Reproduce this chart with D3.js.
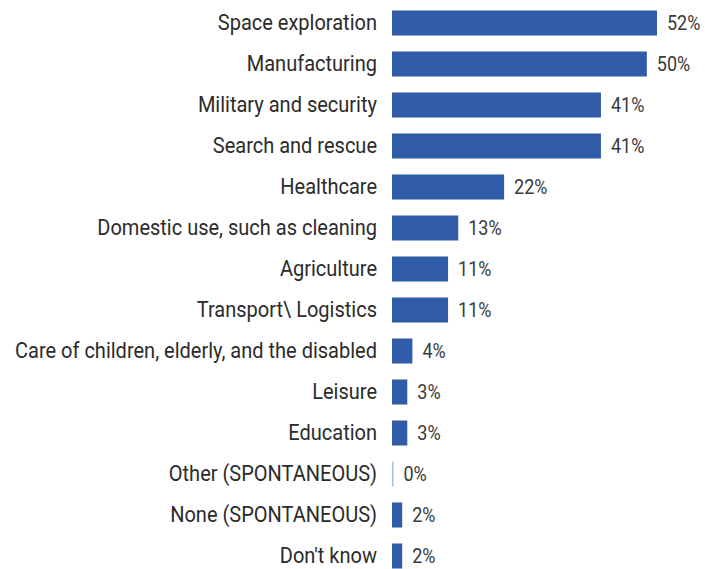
<!DOCTYPE html>
<html>
<head>
<meta charset="utf-8">
<script src="https://cdn.jsdelivr.net/npm/d3@7"></script>
<style>
  body { margin: 0; background: #fff; }
  svg { display: block; }
</style>
</head>
<body>
<div id="chart"></div>
<script>
var categories = ["Space exploration", "Manufacturing", "Military and security", "Search and rescue",
    "Healthcare", "Domestic use, such as cleaning", "Agriculture", "Transport\\ Logistics",
    "Care of children, elderly, and the disabled", "Leisure", "Education",
    "Other (SPONTANEOUS)", "None (SPONTANEOUS)", "Don't know"]
var values = [52, 50, 41, 41, 22, 13, 11, 11, 4, 3, 3, 0, 2, 2]

var width = 705
var height = 569
var x0 = 392
var squeeze = 0.91   // the source text looks a bit condensed

var svg = d3.select("#chart")
    .append("svg")
        .attr("width", width)
        .attr("height", height)

var x = d3.scaleLinear()
    .domain([0, 52])
    .range([x0, 657])

var y = d3.scaleBand()
    .domain(categories)
    .range([2.5, 2.5 + 41 * categories.length])
    .paddingInner(0.39)
    .paddingOuter(0.195)

// bars
svg.append("g")
    .selectAll("rect")
    .data(values)
    .enter()
    .append("rect")
        .attr("x", x(0))
        .attr("y", (d, i) => y(categories[i]))
        .attr("width", d => d > 0 ? x(d) - x(0) : 1.5)
        .attr("height", y.bandwidth())
        .style("fill", d => d > 0 ? "#2f5ba9" : "#a9bfe2")

// category labels
svg.append("g")
    .selectAll("text")
    .data(categories)
    .enter()
    .append("text")
        .attr("transform", d => "translate(" + (x0 - 15) + "," + (y(d) + y.bandwidth() / 2) + ") scale(" + squeeze + ",1)")
        .attr("dy", "0.33em")
        .attr("text-anchor", "end")
        .style("font-family", "Roboto, 'Liberation Sans', sans-serif")
        .style("font-size", "22px")
        .style("fill", "#2b2b2b")
        .text(d => d)

// value labels
svg.append("g")
    .selectAll("text")
    .data(values)
    .enter()
    .append("text")
        .attr("transform", (d, i) => "translate(" + (Math.max(x(d), x0 + 1.5) + 10) + "," + (y(categories[i]) + y.bandwidth() / 2) + ") scale(0.9,1)")
        .attr("dy", "0.35em")
        .style("font-family", "Roboto, 'Liberation Sans', sans-serif")
        .style("font-size", "20px")
        .style("fill", "#3a3a3a")
        .text(d => d + "%")
</script>
</body>
</html>
